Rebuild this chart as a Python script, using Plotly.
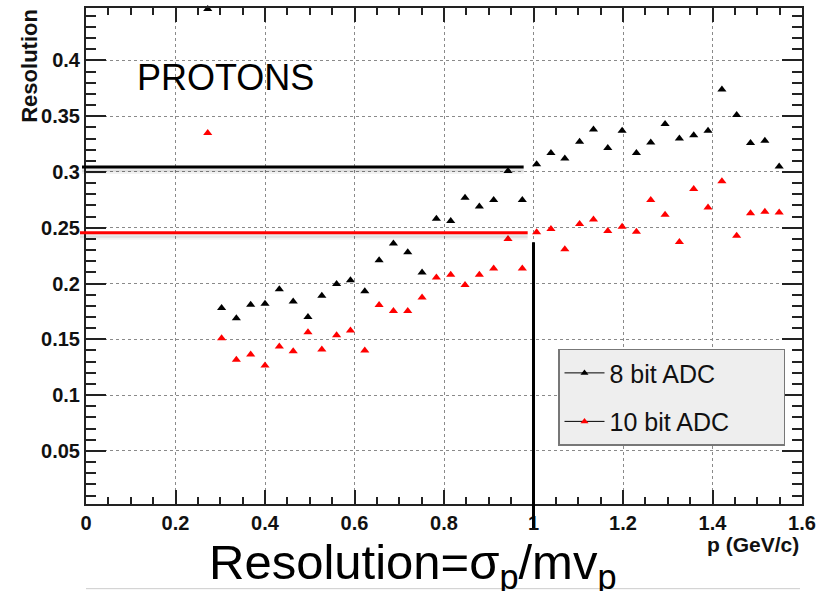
import plotly.graph_objects as go

# ---------------- data ----------------
p_values = [0.272, 0.303, 0.336, 0.368, 0.400, 0.432, 0.463, 0.496, 0.527, 0.560,
            0.591, 0.623, 0.655, 0.687, 0.719, 0.751, 0.783, 0.815, 0.847, 0.879,
            0.911, 0.943, 0.975, 1.007, 1.039, 1.070, 1.103, 1.134, 1.166, 1.198,
            1.230, 1.262, 1.294, 1.326, 1.358, 1.390, 1.421, 1.454, 1.485, 1.517,
            1.549]
res_8bit = [0.446, 0.178, 0.169, 0.181, 0.182, 0.195, 0.184, 0.170, 0.189, 0.1995,
            0.203, 0.193, 0.221, 0.236, 0.228, 0.210, 0.258, 0.256, 0.277, 0.269,
            0.275, 0.301, 0.275, 0.307, 0.317, 0.312, 0.327, 0.338, 0.3215, 0.337,
            0.317, 0.3265, 0.343, 0.330, 0.333, 0.337, 0.374, 0.351, 0.326, 0.328,
            0.305]
res_10bit = [0.335, 0.151, 0.1316, 0.1363, 0.1265, 0.1435, 0.1393, 0.1563, 0.1408, 0.1536,
             0.158, 0.140, 0.1807, 0.1754, 0.1754, 0.1875, 0.2054, 0.208, 0.1988, 0.2078,
             0.2134, 0.240, 0.2134, 0.2459, 0.2488, 0.2307, 0.2533, 0.2575, 0.247, 0.2509,
             0.2464, 0.275, 0.2616, 0.2372, 0.2848, 0.2682, 0.2917, 0.2429, 0.2631, 0.2643,
             0.2637]
series_names = ["8 bit ADC", "10 bit ADC"]
level_8bit = 0.3045
level_10bit = 0.2455
p_mark = 1.0

X_RANGE = [0.0, 1.6]
Y_RANGE = [0.0024, 0.447]

# ---------------- layout geometry ----------------
W, H = 833, 591
L, R, T, B = 86, 31, 6, 87
PW, PH = W - L - R, H - T - B


def xp(v):  # data x -> paper
    return (v - X_RANGE[0]) / (X_RANGE[1] - X_RANGE[0])


def yp(v):  # data y -> paper
    return (v - Y_RANGE[0]) / (Y_RANGE[1] - Y_RANGE[0])


def pxx(px):  # pixel x -> paper
    return (px - L) / PW


def pxy(py):  # pixel y -> paper
    return (H - B - py) / PH


fig = go.Figure()
fig.add_trace(go.Scatter(x=p_values, y=res_8bit, mode="markers", showlegend=False,
                         marker=dict(symbol="triangle-up", size=8, color="black"),
                         cliponaxis=False))
fig.add_trace(go.Scatter(x=p_values, y=res_10bit, mode="markers", showlegend=False,
                         marker=dict(symbol="triangle-up", size=8, color="#ff0000"),
                         cliponaxis=False))
# legend entries
PAD = "\u00a0" * 7
fig.add_trace(go.Scatter(x=[None], y=[None], mode="lines+markers", name=series_names[0] + PAD,
                         legendgroup="a",
                         line=dict(color="black", width=1),
                         marker=dict(symbol="triangle-up", size=7, color="black")))
fig.add_trace(go.Scatter(x=[None], y=[None], mode="lines+markers", name=series_names[1] + PAD,
                         legendgroup="b",
                         line=dict(color="black", width=1),
                         marker=dict(symbol="triangle-up", size=7, color="#ff0000")))

tickfont = dict(family="Liberation Sans", size=20, color="#111", weight="bold")
axis_common = dict(showline=True, linecolor="#222", linewidth=2, mirror="ticks",
                   ticks="inside", tickcolor="#222", tickwidth=2,
                   showgrid=True, gridcolor="#8a8a8a", griddash="dot", gridwidth=1,
                   zeroline=False, tickfont=tickfont)

fig.update_xaxes(range=X_RANGE, dtick=0.2, tick0=0, ticklen=14,
                 minor=dict(dtick=0.05, ticks="inside", ticklen=7, tickcolor="#222",
                            tickwidth=1.5, showgrid=False),
                 **axis_common)
fig.update_yaxes(range=Y_RANGE, dtick=0.05, tick0=0, ticklen=20,
                 minor=dict(dtick=0.01, ticks="inside", ticklen=10, tickcolor="#222",
                            tickwidth=1.5, showgrid=False),
                 **axis_common)

shapes = []
# soft shadows under the marker lines
for y0, x0, x1 in [(level_8bit, pxx(82), xp(0.978)), (level_10bit, pxx(80), xp(0.987))]:
    for off, wdt, a in [(3, 4, 0.08), (5, 4, 0.05)]:
        shapes.append(dict(type="line", xref="paper", yref="paper",
                           x0=x0, x1=x1, y0=yp(y0) - off / PH, y1=yp(y0) - off / PH,
                           line=dict(color="rgba(0,0,0,%.2f)" % a, width=wdt)))
shapes.append(dict(type="line", xref="paper", yref="paper",
                   x0=pxx(82), x1=xp(0.978), y0=yp(level_8bit), y1=yp(level_8bit),
                   line=dict(color="black", width=3)))
shapes.append(dict(type="line", xref="paper", yref="paper",
                   x0=pxx(80), x1=xp(0.987), y0=yp(level_10bit), y1=yp(level_10bit),
                   line=dict(color="#ff0000", width=3)))
shapes.append(dict(type="line", xref="paper", yref="paper",
                   x0=xp(p_mark), x1=xp(p_mark), y0=yp(0.237), y1=pxy(528),
                   line=dict(color="black", width=3)))
shapes.append(dict(type="line", xref="paper", yref="paper",
                   x0=pxx(86), x1=pxx(800), y0=pxy(589), y1=pxy(589),
                   line=dict(color="#cccccc", width=1)))

annotations = [
    dict(text="PROTONS", xref="paper", yref="paper", x=pxx(135), y=pxy(76),
         xanchor="left", yanchor="middle", showarrow=False,
         font=dict(family="Liberation Sans", size=36, color="black")),
    dict(text="Resolution", xref="paper", yref="paper", x=pxx(30), y=pxy(64),
         xanchor="center", yanchor="middle", textangle=-90, showarrow=False,
         font=dict(family="Liberation Sans", size=22, color="#111", weight="bold")),
    dict(text="p (GeV/c)", xref="paper", yref="paper", x=pxx(801), y=pxy(545),
         xanchor="right", yanchor="middle", showarrow=False,
         font=dict(family="Liberation Sans", size=21, color="#111", weight="bold")),
    dict(text="Resolution=σ<sub>p</sub>/mv<sub>p</sub>", xref="paper", yref="paper",
         x=pxx(207), y=pxy(566), xanchor="left", yanchor="middle", showarrow=False,
         font=dict(family="Liberation Sans", size=49, color="black")),
]

fig.update_layout(
    width=W, height=H,
    margin=dict(l=L, r=R, t=T, b=B),
    paper_bgcolor="white", plot_bgcolor="white",
    shapes=shapes, annotations=annotations,
    showlegend=True,
    legend=dict(x=pxx(558), y=pxy(348), xanchor="left", yanchor="top",
                bgcolor="#eeeeee", bordercolor="#777", borderwidth=1.5,
                font=dict(family="Liberation Sans", size=25, color="#111"),
                tracegroupgap=13, itemwidth=40),
)

fig.write_html("out.html")
